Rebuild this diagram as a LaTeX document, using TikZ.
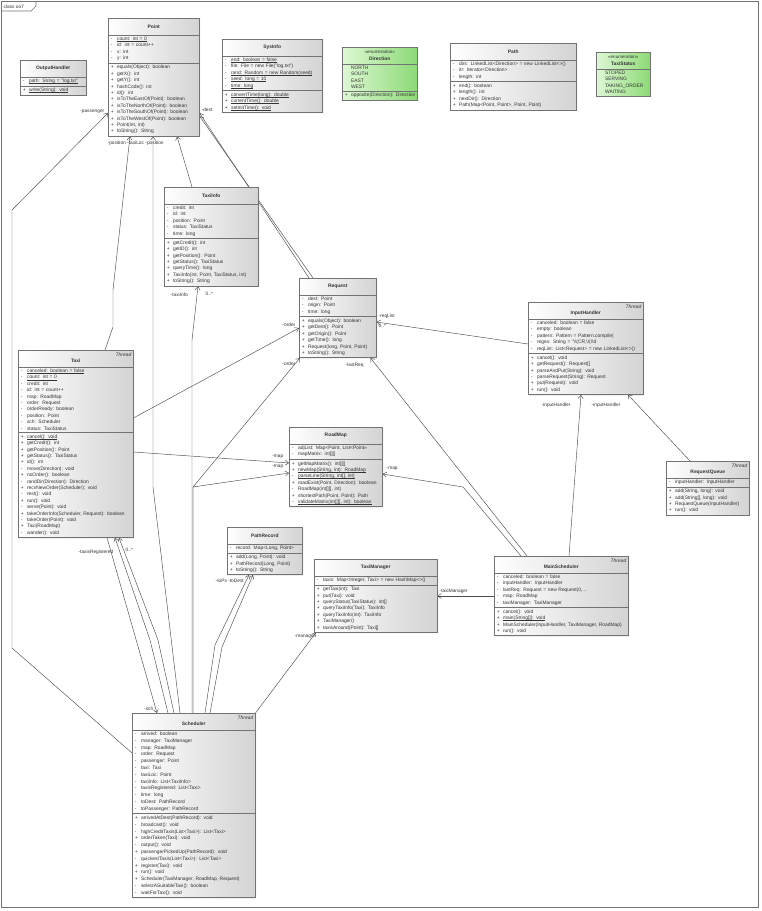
\documentclass[tikz,border=0pt]{standalone}
\usepackage{fontspec}
\setmainfont{Liberation Sans}
\usetikzlibrary{shapes.multipart,arrows.meta,calc,shadows}
\pgfdeclarelayer{bg}
\pgfsetlayers{bg,main}
\definecolor{enumL}{RGB}{222,248,212}
\definecolor{enumR}{RGB}{140,218,118}
\newcommand\vm[2]{\mbox{\makebox[6.8pt][l]{\hspace{0.6pt}#1}#2}}
\newcommand\ul[1]{\setbox0\hbox{#1}\rlap{\rule[-0.8pt]{\wd0}{0.25pt}}\box0}
\newcommand\ttl[1]{\parbox[c][12pt][c]{\hsize}{\centering\bfseries #1}}
\newcommand\ttlT[1]{\parbox[c][12pt][t]{\hsize}{\raggedleft\itshape Thread\par\centering\upshape\bfseries #1}}
\newcommand\ttlE[1]{\parbox[c][12pt][c]{\hsize}{\centering{\fontsize{4.5}{5.2}\selectfont «enumeration»}\par\bfseries #1}}
\tikzset{
  umlbox/.style={rectangle split, rectangle split parts=3, draw=black!55, line width=0.5pt,
    left color=white, right color=black!17, inner xsep=2pt, inner ysep=2pt,
    anchor=north west, font=\fontsize{4.9}{6.4}\selectfont, text=black!80, align=left,
    drop shadow={shadow xshift=0.8pt,shadow yshift=-0.8pt,opacity=0.3,fill=black!60}},
  umlenum/.style={umlbox, left color=enumL, right color=enumR},
  assoc/.style={draw=black!70, line width=0.45pt, -{Straight Barb[length=3.5pt,width=5pt]}},
  lbl/.style={font=\fontsize{4.8}{5.4}\selectfont, text=black!80, inner sep=0.5pt}
}
\begin{document}
\begin{tikzpicture}[x=1pt,y=-1pt]
\useasboundingbox (0,0) rectangle (761,911);
% frame
\draw[black!55, line width=0.6pt] (1.5,1.5) rectangle (758,907);
\draw[black!55, line width=0.6pt] (1.5,11) -- (31,11) -- (36,6) -- (36,1.5);
\node[lbl, anchor=west] (frm) at (3,6.5) {class oo7};

% classes
\node[umlbox, text width=62pt] (outh) at (20,60) {\ttl{OutputHandler}
\nodepart{two}\vm{-}{\ul{path: String = "log.txt"}}
\nodepart{three}\vm{+}{\ul{write(String): void}}};

\node[umlbox, text width=87pt] (point) at (108,18) {\ttl{Point}
\nodepart{two}\vm{-}{\ul{count: int = 0}}\\ \vm{-}{id: int = count++}\\ \vm{-}{x: int}\\ \vm{-}{y: int}
\nodepart{three}\vm{+}{equals(Object): boolean}\\ \vm{+}{getX(): int}\\ \vm{+}{getY(): int}\\ \vm{+}{hashCode(): int}\\ \vm{+}{id(): int}\\ \vm{+}{isToTheEastOf(Point): boolean}\\ \vm{+}{isToTheNorthOf(Point): boolean}\\ \vm{+}{isToTheSouthOf(Point): boolean}\\ \vm{+}{isToTheWestOf(Point): boolean}\\ \vm{+}{Point(int, int)}\\ \vm{+}{toString(): String}};

\node[umlbox, text width=96pt] (sysinfo) at (222,39) {\ttl{SysInfo}
\nodepart{two}\vm{-}{\ul{end: boolean = false}}\\ \vm{-}{file: File = new File("log.txt")}\\ \vm{-}{\ul{rand: Random = new Random(seed)}}\\ \vm{-}{\ul{seed: long = 10}}\\ \vm{-}{\ul{time: long}}
\nodepart{three}\vm{+}{\ul{convertTime(long): double}}\\ \vm{+}{\ul{currentTime(): double}}\\ \vm{+}{\ul{setInitTime(): void}}};

\node[umlenum, text width=71pt] (direction) at (342,47) {\ttlE{Direction}
\nodepart{two}\vm{}{NORTH}\\ \vm{}{SOUTH}\\ \vm{}{EAST}\\ \vm{}{WEST}
\nodepart{three}\vm{+}{opposite(Direction): Direction}};

\node[umlbox, text width=122pt] (path) at (450,43) {\ttl{Path}
\nodepart{two}\vm{-}{dirs: LinkedList<Direction> = new LinkedList<>()}\\ \vm{-}{itr: Iterator<Direction>}\\ \vm{-}{length: int}
\nodepart{three}\vm{+}{end(): boolean}\\ \vm{+}{length(): int}\\ \vm{+}{nextDir(): Direction}\\ \vm{+}{Path(Map<Point, Point>, Point, Point)}};

\node[umlenum, rectangle split parts=2, text width=50pt] (taxistatus) at (596,52) {\ttlE{TaxiStatus}
\nodepart{two}\vm{}{STOPED}\\ \vm{}{SERVING}\\ \vm{}{TAKING\_ORDER}\\ \vm{}{WAITING}};

\node[umlbox, text width=90pt] (taxiinfo) at (164,187) {\ttl{TaxiInfo}
\nodepart{two}\vm{-}{credit: int}\\ \vm{-}{id: int}\\ \vm{-}{position: Point}\\ \vm{-}{status: TaxiStatus}\\ \vm{-}{time: long}
\nodepart{three}\vm{+}{getCredit(): int}\\ \vm{+}{getID(): int}\\ \vm{+}{getPosition(): Point}\\ \vm{+}{getStatus(): TaxiStatus}\\ \vm{+}{queryTime(): long}\\ \vm{+}{TaxiInfo(int, Point, TaxiStatus, int)}\\ \vm{+}{toString(): String}};

\node[umlbox, text width=73pt] (request) at (299,278) {\ttl{Request}
\nodepart{two}\vm{-}{dest: Point}\\ \vm{-}{origin: Point}\\ \vm{-}{time: long}
\nodepart{three}\vm{+}{equals(Object): boolean}\\ \vm{+}{getDest(): Point}\\ \vm{+}{getOrigin(): Point}\\ \vm{+}{getTime(): long}\\ \vm{+}{Request(long, Point, Point)}\\ \vm{+}{toString(): String}};

\node[umlbox, text width=111pt] (inputh) at (528,302) {\ttlT{InputHandler}
\nodepart{two}\vm{-}{canceled: boolean = false}\\ \vm{-}{empty: boolean}\\ \vm{-}{pattern: Pattern = Pattern.compile(}\\ \vm{-}{regex: String = "\textbackslash\textbackslash(CR,\textbackslash\textbackslash(\textbackslash\textbackslash d}\\ \vm{-}{reqList: List<Request> = new LinkedList<>()}
\nodepart{three}\vm{+}{cancel(): void}\\ \vm{+}{getRequest(): Request[]}\\ \vm{+}{parseAndPut(String): void}\\ \vm{-}{parseRequest(String): Request}\\ \vm{+}{put(Request): void}\\ \vm{+}{run(): void}};

\node[umlbox, text width=79pt] (rq) at (666,461) {\ttlT{RequestQueue}
\nodepart{two}\vm{-}{inputHandler: InputHandler}
\nodepart{three}\vm{+}{add(String, long): void}\\ \vm{+}{add(String[], long): void}\\ \vm{+}{RequestQueue(InputHandler)}\\ \vm{+}{run(): void}};

\node[umlbox, text width=111pt] (taxi) at (18,350) {\ttlT{Taxi}
\nodepart{two}\vm{-}{\ul{canceled: boolean = false}}\\ \vm{-}{\ul{count: int = 0}}\\ \vm{-}{credit: int}\\ \vm{-}{id: int = count++}\\ \vm{-}{map: RoadMap}\\ \vm{-}{order: Request}\\ \vm{-}{orderReady: boolean}\\ \vm{-}{position: Point}\\ \vm{-}{sch: Scheduler}\\ \vm{-}{status: TaxiStatus}
\nodepart{three}\vm{+}{\ul{cancel(): void}}\\ \vm{+}{getCredit(): int}\\ \vm{+}{getPosition(): Point}\\ \vm{+}{getStatus(): TaxiStatus}\\ \vm{+}{id(): int}\\ \vm{-}{move(Direction): void}\\ \vm{+}{noOrder(): boolean}\\ \vm{-}{randDir(Direction): Direction}\\ \vm{+}{recvNewOrder(Scheduler): void}\\ \vm{-}{rest(): void}\\ \vm{+}{run(): void}\\ \vm{-}{serve(Point): void}\\ \vm{+}{takeOrderInfo(Scheduler, Request): boolean}\\ \vm{-}{takeOrder(Point): void}\\ \vm{+}{Taxi(RoadMap)}\\ \vm{-}{wander(): void}};

\node[umlbox, text width=89pt] (roadmap) at (289,427) {\ttl{RoadMap}
\nodepart{two}\vm{-}{adjList: Map<Point, List<Point>>}\\ \vm{-}{mapMatrix: int[][]}
\nodepart{three}\vm{+}{getMapMatrix(): int[][]}\\ \vm{+}{\ul{newMap(String, int): RoadMap}}\\ \vm{-}{\ul{parseLine(String, int[], int)}}\\ \vm{+}{roadExist(Point, Direction): boolean}\\ \vm{-}{RoadMap(int[][], int)}\\ \vm{+}{shortestPath(Point, Point): Path}\\ \vm{-}{\ul{validateMatrix(int[][], int): boolean}}};

\node[umlbox, text width=71pt] (pathrec) at (227,527) {\ttl{PathRecord}
\nodepart{two}\vm{-}{record: Map<Long, Point>}
\nodepart{three}\vm{+}{add(Long, Point): void}\\ \vm{+}{PathRecord(Long, Point)}\\ \vm{+}{toString(): String}};

\node[umlbox, text width=119pt] (taximan) at (314,559) {\ttl{TaxiManager}
\nodepart{two}\vm{-}{taxis: Map<Integer, Taxi> = new HashMap<>()}
\nodepart{three}\vm{+}{getTaxi(int): Taxi}\\ \vm{+}{put(Taxi): void}\\ \vm{+}{queryStatus(TaxiStatus): int[]}\\ \vm{+}{queryTaxiInfo(Taxi): TaxiInfo}\\ \vm{+}{queryTaxiInfo(int): TaxiInfo}\\ \vm{+}{TaxiManager()}\\ \vm{+}{taxisAround(Point): Taxi[]}};

\node[umlbox, text width=130pt] (mainsch) at (494,556) {\ttlT{MainScheduler}
\nodepart{two}\vm{-}{canceled: boolean = false}\\ \vm{-}{inputHandler: InputHandler}\\ \vm{-}{lastReq: Request = new Request(0,...}\\ \vm{-}{map: RoadMap}\\ \vm{-}{taxiManager: TaxiManager}
\nodepart{three}\vm{+}{cancel(): void}\\ \vm{+}{\ul{main(String[]): void}}\\ \vm{+}{MainScheduler(InputHandler, TaxiManager, RoadMap)}\\ \vm{+}{run(): void}};

\node[umlbox, text width=119pt, font=\fontsize{4.9}{6.8}\selectfont] (sched) at (132,713) {\ttlT{Scheduler}
\nodepart{two}\vm{-}{arrived: boolean}\\ \vm{-}{manager: TaxiManager}\\ \vm{-}{map: RoadMap}\\ \vm{-}{order: Request}\\ \vm{-}{passenger: Point}\\ \vm{-}{taxi: Taxi}\\ \vm{-}{taxiLoc: Point}\\ \vm{-}{taxiInfo: List<TaxiInfo>}\\ \vm{-}{taxisRegistered: List<Taxi>}\\ \vm{-}{time: long}\\ \vm{-}{toDest: PathRecord}\\ \vm{-}{toPassenger: PathRecord}
\nodepart{three}\vm{+}{arrivedAtDest(PathRecord): void}\\ \vm{-}{broadcast(): void}\\ \vm{-}{highCreditTaxis(List<Taxi>): List<Taxi>}\\ \vm{+}{orderTaken(Taxi): void}\\ \vm{-}{output(): void}\\ \vm{+}{passengerPickedUp(PathRecord): void}\\ \vm{-}{quickestTaxis(List<Taxi>): List<Taxi>}\\ \vm{+}{register(Taxi): void}\\ \vm{+}{run(): void}\\ \vm{+}{Scheduler(TaxiManager, RoadMap, Request)}\\ \vm{-}{selectASuitableTaxi(): boolean}\\ \vm{-}{waitForTaxi(): void}};

% connectors
\begin{pgfonlayer}{bg}
% Scheduler.passenger
\draw[assoc] ($(sched.north west)+(0,40)$) -- (12,648) -- (12,210) -- ($(point.north west)+(0,95)$);
% Taxi.position
\draw[assoc] ($(taxi.north west)+(87,0)$) -- (113,327) -- (113,290) -- ($(point.south west)+(22,0)$);
% Scheduler.taxiLoc
\draw[assoc] ($(sched.north west)+(48,0)$) -- (153,487) -- ($(point.south west)+(45,0)$);
% TaxiInfo.position
\draw[assoc] ($(taxiinfo.north west)+(28,0)$) -- ($(point.south west)+(69,0)$);
% Request.dest / origin
\draw[assoc] ($(request.north west)+(10,0)$) -- ($(point.north east)+(0,95)$);
\draw[assoc] ($(request.north west)+(14,0)$) -- ($(point.north east)+(0,98)$);
% Taxi.order, Taxi.map
\draw[assoc] ($(taxi.north east)+(0,68)$) -- ($(request.north west)+(0,50)$);
\draw[assoc] ($(taxi.north east)+(0,102)$) -- ($(roadmap.north west)+(0,36)$);
% Scheduler.taxiInfo, order, map
\draw[assoc] ($(sched.north west)+(60,0)$) -- (192,340) -- ($(taxiinfo.south west)+(34,0)$);
\draw[assoc] ($(sched.north west)+(61,0)$) -- (193,487) -- ($(request.south west)+(1,0)$);
\draw[assoc] ($(sched.north west)+(61,0)$) -- (193,487) -- ($(roadmap.north west)+(0,46)$);
% Scheduler.toPassenger / toDest
\draw[assoc] ($(sched.north west)+(73,0)$) -- (215,645) -- ($(pathrec.south west)+(22,0)$);
\draw[assoc] ($(sched.north west)+(78,0)$) -- (222,647) -- ($(pathrec.south west)+(26,0)$);
% Scheduler.manager
\draw[assoc] (sched.north east) -- ($(taximan.south west)+(2,0)$);
% Taxi.sch
\draw[assoc] ($(taxi.south west)+(89,0)$) -- ($(sched.north west)+(25,0)$);
% Scheduler.taxisRegistered, taxi
\draw[assoc] ($(sched.north west)+(36,0)$) -- (150,640) -- ($(taxi.south west)+(97,0)$);
\draw[assoc] ($(sched.north west)+(42,0)$) -- (158,640) -- ($(taxi.south west)+(101,0)$);
% InputHandler.reqList
\draw[assoc] ($(inputh.north west)+(0,42)$) -- ($(request.north east)+(0,44)$);
% MainScheduler.lastReq, map, inputHandler, taxiManager
\draw[assoc] ($(mainsch.north west)+(33,0)$) -- ($(request.south east)+(-6,0)$);
\draw[assoc] ($(mainsch.north west)+(27,0)$) -- (463,487) -- ($(roadmap.north east)+(0,47)$);
\draw[assoc] ($(mainsch.north west)+(75,0)$) -- ($(inputh.south west)+(53,0)$);
\draw[assoc] ($(mainsch.north west)+(0,40)$) -- ($(taximan.north east)+(0,37)$);
% RequestQueue.inputHandler
\draw[assoc] ($(rq.north west)+(24,0)$) -- ($(inputh.south west)+(100,0)$);
\end{pgfonlayer}

% labels
\node[lbl, anchor=east] (lpass) at (105,112) {-passenger};
\node[lbl, anchor=west] (lpos1) at (107,143) {-position};
\node[lbl, anchor=west] (ltloc) at (lpos1.east) {-taxiLoc};
\node[lbl, anchor=west] (lpos2) at (ltloc.east) {-position};
\node[lbl, anchor=west] (ldest) at (201,110) {-dest};
\node[lbl, anchor=west] (ltinfo) at (170,295) {-taxiInfo};
\node[lbl, anchor=west] (ltinfom) at (205,294) {0..*};
\node[lbl, anchor=east] (lord1) at (296,325) {-order};
\node[lbl, anchor=east] (lord2) at (296,364) {-order};
\node[lbl, anchor=west] (llast) at (345,365) {-lastReq};
\node[lbl, anchor=west] (lreq) at (378,316) {-reqList};
\node[lbl, anchor=west] (lreqm) at (378,326) {0..*};
\node[lbl, anchor=east] (lmap1) at (284,457) {-map};
\node[lbl, anchor=east] (lmap2) at (284,467) {-map};
\node[lbl, anchor=west] (lmap3) at (386,469) {-map};
\node[lbl, anchor=west] (lih1) at (541,405) {-inputHandler};
\node[lbl, anchor=west] (lih2) at (591,405) {-inputHandler};
\node[lbl, anchor=west] (ltm) at (439,591) {-taxiManager};
\node[lbl, anchor=east] (lman) at (316,637) {-manager};
\node[lbl, anchor=west] (ltops) at (215,581) {-toPs};
\node[lbl, anchor=west] (ltodest) at (ltops.east) {-toDest};
\node[lbl, anchor=east] (ltreg) at (114,552) {-taxisRegistered};
\node[lbl, anchor=west] (ltregm) at (125,550) {0..*};
\node[lbl, anchor=east] (lsch) at (154,709) {-sch};
\end{tikzpicture}
\end{document}
